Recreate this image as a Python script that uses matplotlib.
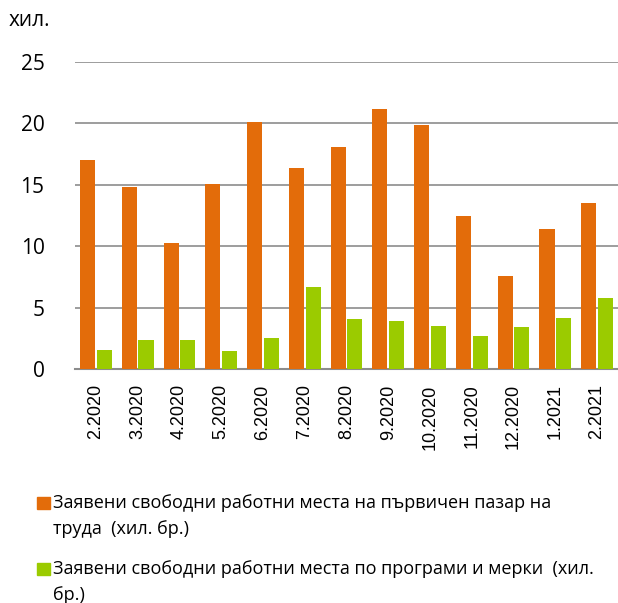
import numpy as np
import matplotlib.pyplot as plt
from matplotlib.patches import Rectangle

# --------------------------------------------------------------
# Data
# --------------------------------------------------------------

months = ["2.2020", "3.2020", "4.2020", "5.2020", "6.2020", "7.2020", "8.2020",
          "9.2020", "10.2020", "11.2020", "12.2020", "1.2021", "2.2021"]
primary = [17.0, 14.85, 10.3, 15.1, 20.1, 16.4, 18.1, 21.15, 19.9, 12.45, 7.6, 11.4, 13.5]
programs = [1.55, 2.35, 2.4, 1.45, 2.5, 6.7, 4.07, 3.9, 3.52, 2.7, 3.45, 4.18, 5.8]

label_primary = ["Заявени свободни работни места на първичен пазар на",
                 "труда  (хил. бр.)"]
label_programs = ["Заявени свободни работни места по програми и мерки  (хил.",
                  "бр.)"]

orange = "#E36C0A"
green = "#9BCB00"

plt.rcParams['font.family'] = ['Open Sans', 'DejaVu Sans']

W, H = 618, 603

# --------------------------------------------------------------
# Plot
# --------------------------------------------------------------

fig = plt.figure(figsize=(W / 100, H / 100), dpi=100)
ax = fig.add_axes([75 / W, 1 - 369 / H, 543 / W, 307 / H])

x = np.arange(len(months))
w = 0.36
ax.bar(x - w / 2 - 0.02, primary, width=w, color=orange, zorder=3)
ax.bar(x + w / 2 + 0.02, programs, width=w, color=green, zorder=3)

ax.set_xlim(-0.5, len(months) - 0.5)
ax.set_ylim(0, 25)
ax.set_yticks([0, 5, 10, 15, 20, 25])
ax.set_xticks(x)
ax.set_xticklabels(months, rotation=90, fontsize=13, family="Liberation Sans")
ax.tick_params(axis="y", labelsize=15, length=0, pad=22)
ax.tick_params(axis="x", length=0, pad=11)

ax.grid(axis="y", color="#8c8c8c", linewidth=1.2, zorder=0)
for s in ["top", "right", "left"]:
    ax.spines[s].set_visible(False)
ax.spines["bottom"].set_color("#8c8c8c")
ax.spines["bottom"].set_linewidth(1.5)

fig.text(9 / W, 1 - 21 / H, "хил.", fontsize=15, va="center", ha="left")

# legend drawn by hand so the marker sits next to the first line
entries = [(label_primary, orange, 497), (label_programs, green, 563)]
for lines, col, ytop in entries:
    fig.patches.append(Rectangle((37 / W, 1 - (ytop + 12) / H), 13 / W, 12 / H,
                                 transform=fig.transFigure, color=col))
    for k, line in enumerate(lines):
        fig.text(53 / W, 1 - (ytop + 11 + 26 * k) / H, line, fontsize=13,
                 va="baseline", ha="left")

fig.savefig("out.png", dpi=100)
